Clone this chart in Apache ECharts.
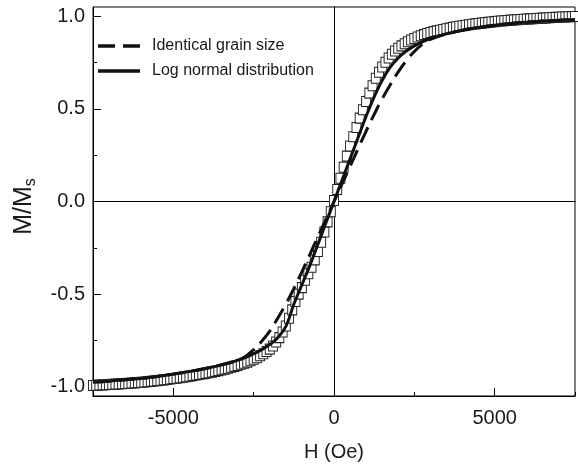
<!DOCTYPE html>
<html>
<head>
<meta charset="utf-8">
<script src="https://cdn.jsdelivr.net/npm/echarts@6/dist/echarts.min.js"></script>
<style>html,body{margin:0;padding:0;background:#fff;}#c{width:578px;height:464px;}</style>
</head>
<body>
<div id="c"></div>
<script>
// Measured data (open squares): field H (Oe) and M/Ms
var dataH = [-7500,-7400,-7300,-7200,-7100,-7000,-6900,-6800,-6700,-6600,-6500,-6400,-6300,-6200,-6100,-6000,-5900,-5800,-5700,-5600,-5500,-5400,-5300,-5200,-5100,-5000,-4900,-4800,-4700,-4600,-4500,-4400,-4300,-4200,-4100,-4000,-3900,-3800,-3700,-3600,-3500,-3400,-3300,-3200,-3100,-3000,-2900,-2800,-2700,-2600,-2500,-2400,-2300,-2200,-2100,-2000,-1900,-1800,-1700,-1600,-1500,-1400,-1300,-1200,-1100,-1000,-900,-800,-700,-600,-500,-400,-300,-200,-100,0,100,200,300,400,500,600,700,800,900,1000,1100,1200,1300,1400,1500,1600,1700,1800,1900,2000,2100,2200,2300,2400,2500,2600,2700,2800,2900,3000,3100,3200,3300,3400,3500,3600,3700,3800,3900,4000,4100,4200,4300,4400,4500,4600,4700,4800,4900,5000,5100,5200,5300,5400,5500,5600,5700,5800,5900,6000,6100,6200,6300,6400,6500,6600,6700,6800,6900,7000,7100,7200,7300,7400,7500];
var dataM = [-0.993,-0.992,-0.991,-0.990,-0.989,-0.988,-0.987,-0.986,-0.985,-0.984,-0.983,-0.981,-0.980,-0.979,-0.977,-0.976,-0.974,-0.973,-0.971,-0.969,-0.967,-0.965,-0.963,-0.961,-0.958,-0.956,-0.954,-0.951,-0.949,-0.946,-0.943,-0.940,-0.937,-0.934,-0.931,-0.928,-0.925,-0.921,-0.917,-0.913,-0.909,-0.905,-0.900,-0.895,-0.890,-0.885,-0.879,-0.873,-0.867,-0.860,-0.852,-0.843,-0.833,-0.822,-0.810,-0.797,-0.780,-0.758,-0.735,-0.705,-0.672,-0.630,-0.585,-0.540,-0.500,-0.465,-0.425,-0.390,-0.355,-0.315,-0.270,-0.220,-0.165,-0.110,-0.055,0.005,0.065,0.125,0.185,0.245,0.300,0.350,0.400,0.450,0.495,0.540,0.585,0.625,0.665,0.698,0.726,0.752,0.775,0.795,0.812,0.827,0.840,0.852,0.862,0.872,0.880,0.888,0.895,0.901,0.907,0.912,0.917,0.921,0.925,0.929,0.933,0.936,0.940,0.943,0.946,0.949,0.952,0.954,0.957,0.959,0.961,0.963,0.965,0.967,0.969,0.971,0.973,0.974,0.976,0.977,0.979,0.980,0.981,0.983,0.984,0.985,0.986,0.987,0.988,0.989,0.990,0.991,0.992,0.993,0.994,0.995,0.996,0.996,0.997,0.998,0.999];

// Model curves
var curveH = [-7500,-7000,-6500,-6000,-5500,-5000,-4500,-4000,-3500,-3000,-2750,-2500,-2250,-2000,-1750,-1500,-1250,-1000,-750,-500,-250,0,250,500,750,1000,1250,1500,1750,2000,2250,2500,2750,3000,3500,4000,4500,5000,5500,6000,6500,7000,7500];
var identicalM = [-0.975,-0.970,-0.962,-0.955,-0.945,-0.932,-0.918,-0.902,-0.882,-0.858,-0.835,-0.800,-0.755,-0.700,-0.630,-0.555,-0.470,-0.380,-0.285,-0.190,-0.095,0.000,0.095,0.190,0.285,0.380,0.470,0.555,0.630,0.700,0.760,0.810,0.848,0.875,0.905,0.925,0.940,0.952,0.961,0.968,0.974,0.978,0.982];
var lognormalM = [-0.975,-0.970,-0.962,-0.955,-0.945,-0.932,-0.918,-0.902,-0.882,-0.858,-0.842,-0.822,-0.800,-0.772,-0.735,-0.675,-0.555,-0.450,-0.345,-0.230,-0.115,0.000,0.115,0.230,0.345,0.460,0.565,0.655,0.725,0.775,0.812,0.840,0.862,0.880,0.905,0.925,0.940,0.952,0.961,0.968,0.974,0.978,0.982];

var yMajor = [-1.0,-0.5,0.0,0.5,1.0];
var yMinor = [-0.75,-0.25,0.25,0.75];
var xMajor = [-5000,0,5000];
var xMinor = [-7500,-2500,2500,7500];
var legendNames = ['Identical grain size','Log normal distribution'];
var xName = 'H (Oe)';
var yNameMain = 'M/M';
var yNameSub = 's';

function zip(a,b){var r=[];for(var i=0;i<a.length;i++)r.push([a[i],b[i]]);return r;}

var FONT = '"Liberation Sans", Arial, Helvetica, sans-serif';
var INK = '#1a1a1a';
var ICON_DASH = 'path://M0,0L0.01,0L0.01,0.01Z M42,14L41.99,14L41.99,13.99Z M0,5.3L17,5.3L17,8.7L0,8.7Z M25,5.3L42,5.3L42,8.7L25,8.7Z';
var ICON_SOLID = 'path://M0,0L0.01,0L0.01,0.01Z M42,14L41.99,14L41.99,13.99Z M0,5.3L42,5.3L42,8.7L0,8.7Z';

// measure y-axis title pieces to centre the rotated title
var mctx = document.createElement('canvas').getContext('2d');
mctx.font = '25px ' + FONT; var wMain = mctx.measureText(yNameMain).width;
mctx.font = '16px ' + FONT; var wSub = mctx.measureText(yNameSub).width;
var wTot = wMain + wSub;

var chart = echarts.init(document.getElementById('c'), null, {renderer:'canvas'});
chart.setOption({
  animation:false,
  backgroundColor:'#fff',
  textStyle:{fontFamily:FONT},
  grid:{left:93,right:3,top:7,bottom:68,show:true,borderColor:'#000',borderWidth:1,backgroundColor:'transparent',
        containLabel:false,outerBoundsMode:'none'},
  legend:{
    data:[{name:legendNames[0],icon:ICON_DASH},{name:legendNames[1],icon:ICON_SOLID}],
    orient:'vertical', left:98, top:38, padding:0, itemWidth:42, itemHeight:14, itemGap:9,
    itemStyle:{color:'#111',borderWidth:0},
    textStyle:{fontSize:16,color:INK,fontFamily:FONT,padding:[0,0,0,7]}
  },
  graphic:[{
    type:'group', x:24, y:206.5, rotation:Math.PI/2, silent:true,
    children:[
      {type:'text', x:-wTot/2, y:0, style:{text:yNameMain, font:'25px '+FONT, fill:INK, textAlign:'left', textVerticalAlign:'middle'}},
      {type:'text', x:-wTot/2 + wMain, y:7, style:{text:yNameSub, font:'16px '+FONT, fill:INK, textAlign:'left', textVerticalAlign:'middle'}}
    ]
  }],
  xAxis:[
    {type:'value',min:-7500,max:7500,position:'bottom',
     name:xName,nameLocation:'middle',nameGap:46,nameTextStyle:{fontSize:20,color:INK,fontFamily:FONT},
     axisLine:{onZero:false,lineStyle:{color:'#000',width:1}},
     axisTick:{inside:true,length:8,customValues:xMajor,lineStyle:{color:'#000'}},
     axisLabel:{customValues:xMajor,fontSize:20,color:INK,margin:12,fontFamily:FONT,
       formatter:function(v){return String(v);}},
     splitLine:{show:false}},
    {type:'value',min:-7500,max:7500,position:'bottom',
     axisLine:{show:false,onZero:false},
     axisTick:{inside:true,length:4,customValues:xMinor,lineStyle:{color:'#000'}},
     axisLabel:{show:false},splitLine:{show:false}},
    {type:'value',min:-7500,max:7500,
     axisLine:{show:true,onZero:true,onZeroAxisIndex:0,lineStyle:{color:'#000',width:1}},
     axisTick:{show:false},axisLabel:{show:false},splitLine:{show:false}}
  ],
  yAxis:[
    {type:'value',min:-1.05,max:1.05,position:'left',
     axisLine:{onZero:false,lineStyle:{color:'#000',width:1}},
     axisTick:{inside:true,length:8,customValues:yMajor,lineStyle:{color:'#000'}},
     axisLabel:{customValues:yMajor,fontSize:20,color:INK,margin:8,fontFamily:FONT,
       formatter:function(v){return v.toFixed(1);}},
     splitLine:{show:false}},
    {type:'value',min:-1.05,max:1.05,position:'left',
     axisLine:{show:false,onZero:false},
     axisTick:{inside:true,length:4,customValues:yMinor,lineStyle:{color:'#000'}},
     axisLabel:{show:false},splitLine:{show:false}},
    {type:'value',min:-1.05,max:1.05,
     axisLine:{show:true,onZero:true,onZeroAxisIndex:0,lineStyle:{color:'#000',width:1}},
     axisTick:{show:false},axisLabel:{show:false},splitLine:{show:false}}
  ],
  series:[
    {name:'Data',type:'scatter',xAxisIndex:0,yAxisIndex:0,data:zip(dataH,dataM),
     symbol:'rect',symbolSize:[9,10],
     itemStyle:{color:'#fff',borderColor:'#222',borderWidth:1,opacity:1},z:2},
    {name:legendNames[0],type:'line',xAxisIndex:0,yAxisIndex:0,data:zip(curveH,identicalM),
     smooth:0.4,symbol:'none',showSymbol:false,
     lineStyle:{color:'#111',width:3,type:[17,8]},itemStyle:{color:'#111'},z:3},
    {name:legendNames[1],type:'line',xAxisIndex:0,yAxisIndex:0,data:zip(curveH,lognormalM),
     smooth:0.4,symbol:'none',showSymbol:false,
     lineStyle:{color:'#111',width:3,type:'solid'},itemStyle:{color:'#111'},z:4}
  ]
});
</script>
</body>
</html>
